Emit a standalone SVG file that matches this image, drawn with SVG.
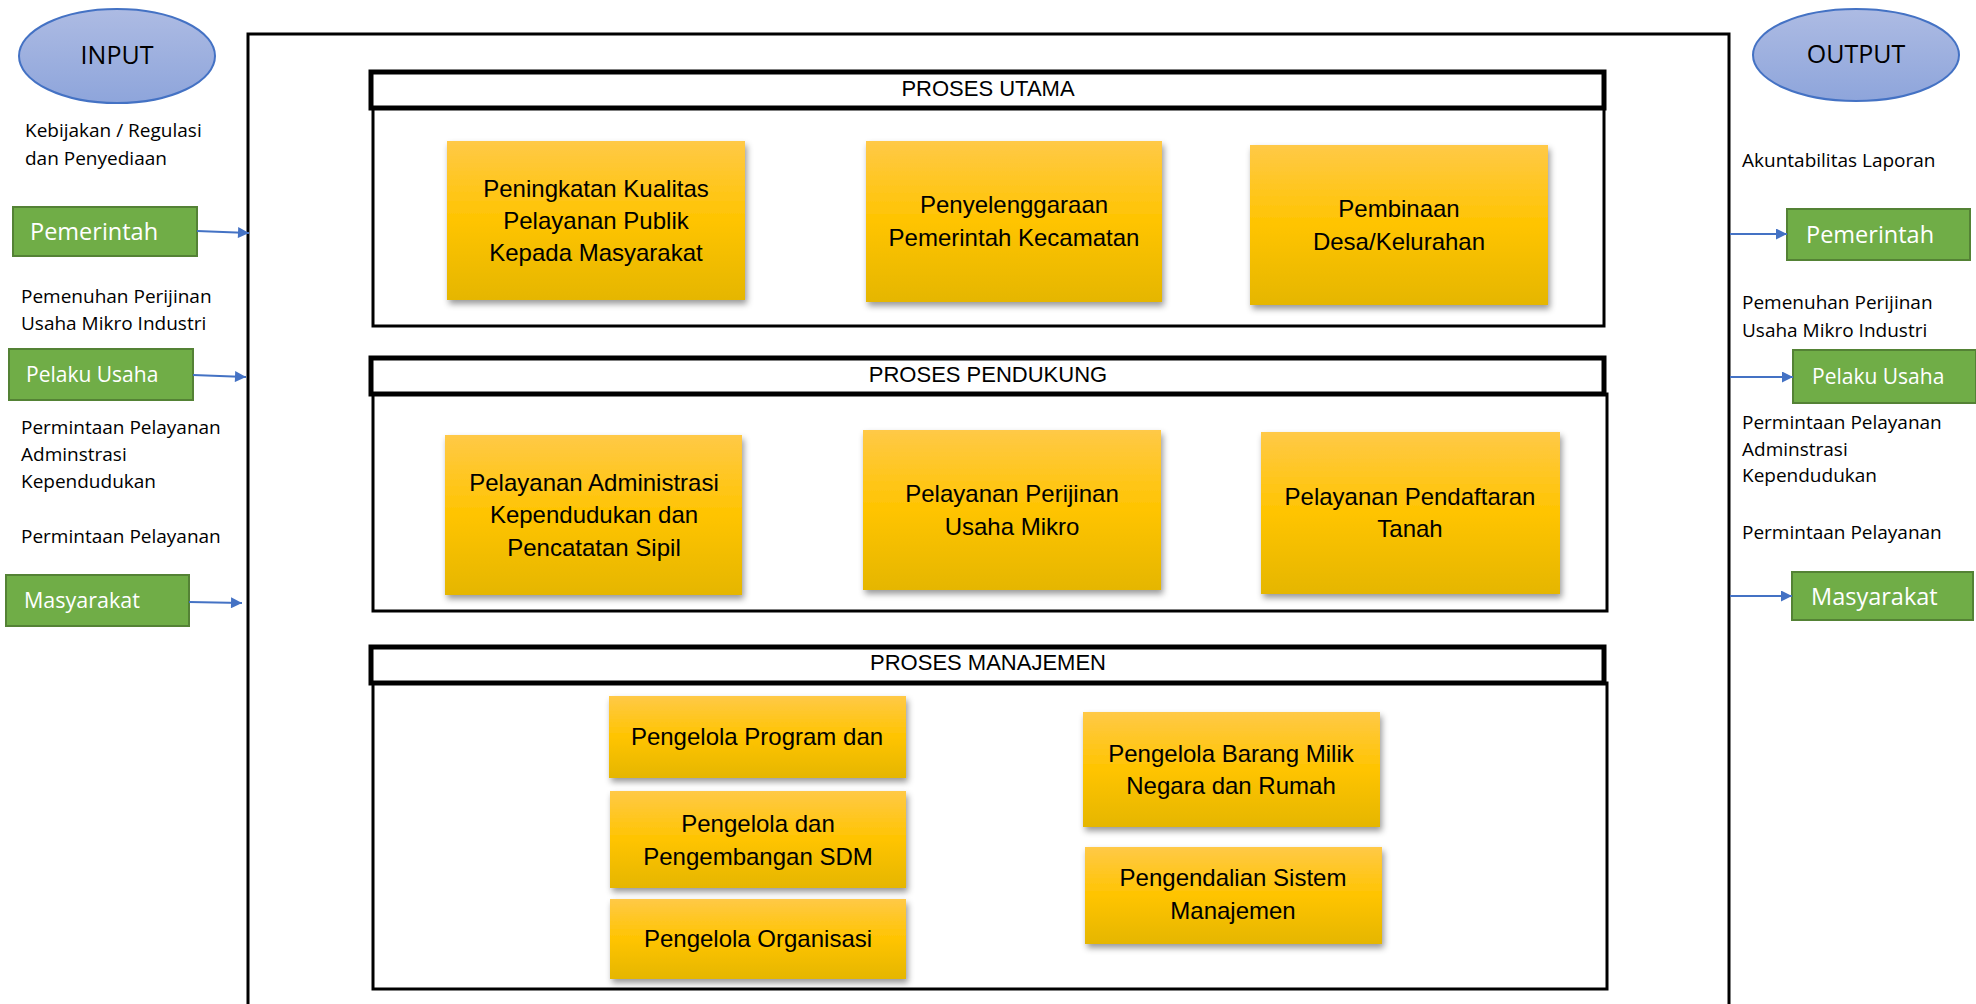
<svg xmlns="http://www.w3.org/2000/svg" width="1976" height="1004" viewBox="0 0 1976 1004">
<style>
.side{font-family:"Open Sans","Liberation Sans",sans-serif;font-size:19px;fill:#000}
.gtxt{font-family:"Open Sans","Liberation Sans",sans-serif;font-size:23.5px;fill:#fff}
.btxt{font-family:"Liberation Sans",Arial,sans-serif;font-size:24px;fill:#000;text-anchor:middle}
.ttl{font-family:"Liberation Sans",Arial,sans-serif;font-size:22px;fill:#000;text-anchor:middle}
.etxt{font-family:"Open Sans","Liberation Sans",sans-serif;font-size:25px;fill:#000;text-anchor:middle}
.green{fill:#70ad47;stroke:#548235;stroke-width:2}
.orange{fill:url(#og);filter:url(#sh)}
.ell{fill:url(#eg);stroke:#4472c4;stroke-width:2}
.tbox{fill:#fff;stroke:#000;stroke-width:5}
.body{fill:none;stroke:#000;stroke-width:3}
.conn{stroke:#4472c4;stroke-width:2;fill:none;marker-end:url(#ah)}
</style>
<defs>
<linearGradient id="og" x1="0" y1="0" x2="0" y2="1">
<stop offset="0" stop-color="#ffc947"/>
<stop offset="0.5" stop-color="#ffc400"/>
<stop offset="1" stop-color="#e5b600"/>
</linearGradient>
<linearGradient id="eg" x1="0" y1="0" x2="0" y2="1">
<stop offset="0" stop-color="#adbbe3"/>
<stop offset="1" stop-color="#8ea5db"/>
</linearGradient>
<filter id="sh" x="-10%" y="-10%" width="125%" height="130%">
<feDropShadow dx="2" dy="4" stdDeviation="3" flood-color="#000" flood-opacity="0.4"/>
</filter>
<marker id="ah" viewBox="0 0 10 10" refX="10" refY="5" markerWidth="6" markerHeight="5.5" orient="auto" markerUnits="strokeWidth">
<path d="M0,0 L10,5 L0,10 z" fill="#4472c4"/>
</marker>
</defs>
<rect width="1976" height="1004" fill="#fff"/>

<g id="main-frame">
<rect x="248" y="34" width="1481" height="1000" fill="none" stroke="#000" stroke-width="3"/>
</g>

<g id="input">
<ellipse class="ell" cx="117" cy="56" rx="98" ry="47"/>
<text class="etxt" x="117" y="64">INPUT</text>
</g>
<g id="output">
<ellipse class="ell" cx="1856" cy="55" rx="103" ry="46"/>
<text class="etxt" x="1856" y="63">OUTPUT</text>
</g>

<g id="input-texts">
<text class="side" x="25" y="137">Kebijakan / Regulasi</text>
<text class="side" x="25" y="165">dan Penyediaan</text>
<text class="side" x="21" y="303">Pemenuhan Perijinan</text>
<text class="side" x="21" y="330">Usaha Mikro Industri</text>
<text class="side" x="21" y="434">Permintaan Pelayanan</text>
<text class="side" x="21" y="461">Adminstrasi</text>
<text class="side" x="21" y="488">Kependudukan</text>
<text class="side" x="21" y="543">Permintaan Pelayanan</text>
</g>
<g id="output-texts">
<text class="side" x="1742" y="167">Akuntabilitas Laporan</text>
<text class="side" x="1742" y="309">Pemenuhan Perijinan</text>
<text class="side" x="1742" y="337">Usaha Mikro Industri</text>
<text class="side" x="1742" y="429">Permintaan Pelayanan</text>
<text class="side" x="1742" y="456">Adminstrasi</text>
<text class="side" x="1742" y="482">Kependudukan</text>
<text class="side" x="1742" y="539">Permintaan Pelayanan</text>
</g>

<g id="in-pemerintah">
<rect class="green" x="13" y="207" width="184" height="49"/>
<text class="gtxt" x="30" y="240">Pemerintah</text>
</g>
<g id="in-pelaku-usaha">
<rect class="green" x="9" y="349" width="184" height="51"/>
<text class="gtxt" x="26" y="382" style="font-size:21px">Pelaku Usaha</text>
</g>
<g id="in-masyarakat">
<rect class="green" x="6" y="575" width="183" height="51"/>
<text class="gtxt" x="24" y="608" style="font-size:21.5px">Masyarakat</text>
</g>
<g id="out-pemerintah">
<rect class="green" x="1787" y="209" width="183" height="51"/>
<text class="gtxt" x="1806" y="243">Pemerintah</text>
</g>
<g id="out-pelaku-usaha">
<rect class="green" x="1793" y="350" width="183" height="53"/>
<text class="gtxt" x="1812" y="384" style="font-size:21px">Pelaku Usaha</text>
</g>
<g id="out-masyarakat">
<rect class="green" x="1792" y="572" width="181" height="48"/>
<text class="gtxt" x="1811" y="605">Masyarakat</text>
</g>

<g id="proses-utama">
<rect class="body" x="373" y="108" width="1231" height="218"/>
<rect class="tbox" x="371" y="72" width="1233" height="36"/>
<text class="ttl" x="988" y="96">PROSES UTAMA</text>
</g>
<g id="proses-pendukung">
<rect class="body" x="373" y="394" width="1234" height="217"/>
<rect class="tbox" x="371" y="358" width="1233" height="36"/>
<text class="ttl" x="988" y="382">PROSES PENDUKUNG</text>
</g>
<g id="proses-manajemen">
<rect class="body" x="373" y="683" width="1234" height="306"/>
<rect class="tbox" x="371" y="647" width="1233" height="36"/>
<text class="ttl" x="988" y="670">PROSES MANAJEMEN</text>
</g>

<g id="peningkatan">
<rect class="orange" x="447" y="141" width="298" height="159"/>
<text class="btxt" x="596" y="197">Peningkatan Kualitas</text>
<text class="btxt" x="596" y="229">Pelayanan Publik</text>
<text class="btxt" x="596" y="261">Kepada Masyarakat</text>
</g>
<g id="penyelenggaraan">
<rect class="orange" x="866" y="141" width="296" height="161"/>
<text class="btxt" x="1014" y="213">Penyelenggaraan</text>
<text class="btxt" x="1014" y="246">Pemerintah Kecamatan</text>
</g>
<g id="pembinaan">
<rect class="orange" x="1250" y="145" width="298" height="160"/>
<text class="btxt" x="1399" y="217">Pembinaan</text>
<text class="btxt" x="1399" y="250">Desa/Kelurahan</text>
</g>
<g id="pelayanan-adminduk">
<rect class="orange" x="445" y="435" width="297" height="160"/>
<text class="btxt" x="594" y="491">Pelayanan Administrasi</text>
<text class="btxt" x="594" y="523">Kependudukan dan</text>
<text class="btxt" x="594" y="556">Pencatatan Sipil</text>
</g>
<g id="pelayanan-perijinan">
<rect class="orange" x="863" y="430" width="298" height="160"/>
<text class="btxt" x="1012" y="502">Pelayanan Perijinan</text>
<text class="btxt" x="1012" y="535">Usaha Mikro</text>
</g>
<g id="pelayanan-pendaftaran">
<rect class="orange" x="1261" y="432" width="299" height="162"/>
<text class="btxt" x="1410" y="505">Pelayanan Pendaftaran</text>
<text class="btxt" x="1410" y="537">Tanah</text>
</g>
<g id="pengelola-program">
<rect class="orange" x="609" y="696" width="297" height="82"/>
<text class="btxt" x="757" y="745">Pengelola Program dan</text>
</g>
<g id="pengelola-sdm">
<rect class="orange" x="610" y="791" width="296" height="97"/>
<text class="btxt" x="758" y="832">Pengelola dan</text>
<text class="btxt" x="758" y="865">Pengembangan SDM</text>
</g>
<g id="pengelola-organisasi">
<rect class="orange" x="610" y="899" width="296" height="80"/>
<text class="btxt" x="758" y="947">Pengelola Organisasi</text>
</g>
<g id="pengelola-barang">
<rect class="orange" x="1083" y="712" width="297" height="115"/>
<text class="btxt" x="1231" y="762">Pengelola Barang Milik</text>
<text class="btxt" x="1231" y="794">Negara dan Rumah</text>
</g>
<g id="pengendalian">
<rect class="orange" x="1085" y="847" width="297" height="97"/>
<text class="btxt" x="1233" y="886">Pengendalian Sistem</text>
<text class="btxt" x="1233" y="919">Manajemen</text>
</g>

<g id="connectors">
<line class="conn" x1="197" y1="231" x2="249" y2="233"/>
<line class="conn" x1="193" y1="375" x2="246" y2="377"/>
<line class="conn" x1="189" y1="602" x2="242" y2="603"/>
<line class="conn" x1="1730" y1="234" x2="1787" y2="234"/>
<line class="conn" x1="1730" y1="377" x2="1793" y2="377"/>
<line class="conn" x1="1730" y1="596" x2="1792" y2="596"/>
</g>
</svg>
